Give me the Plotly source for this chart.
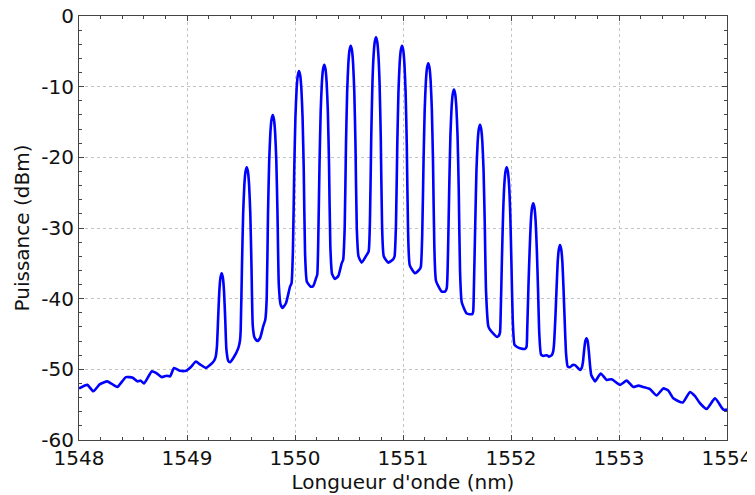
import plotly.graph_objects as go

# Spectrum trace (wavelength in nm, power in dBm)
wavelength_nm = [
    1548.000, 1548.077, 1548.132, 1548.194, 1548.262, 1548.318, 1548.355, 1548.435,
    1548.497, 1548.540, 1548.571, 1548.602, 1548.673, 1548.713, 1548.766, 1548.812,
    1548.843, 1548.880, 1548.935, 1548.991, 1549.034, 1549.083, 1549.120, 1549.176,
    1549.213, 1549.250, 1549.266,
    # peak 1
    1549.277, 1549.288, 1549.299, 1549.310, 1549.321, 1549.332, 1549.343, 1549.354, 1549.365,
    1549.382, 1549.398, 1549.429, 1549.475, 1549.490,
    # peak 2
    1549.497, 1549.509, 1549.520, 1549.531, 1549.542, 1549.553, 1549.564, 1549.575, 1549.586, 1549.597, 1549.609,
    1549.625, 1549.651, 1549.676, 1549.706, 1549.725,
    # peak 3
    1549.738, 1549.750, 1549.761, 1549.772, 1549.783, 1549.794, 1549.805, 1549.816, 1549.827, 1549.838, 1549.850,
    1549.866, 1549.886, 1549.917, 1549.954, 1549.968,
    # peak 4
    1549.981, 1549.993, 1550.004, 1550.015, 1550.026, 1550.037, 1550.048, 1550.059, 1550.070, 1550.081, 1550.093,
    1550.110, 1550.145, 1550.169, 1550.195, 1550.206,
    # peak 5
    1550.215, 1550.227, 1550.238, 1550.249, 1550.260, 1550.271, 1550.282, 1550.293, 1550.304, 1550.315, 1550.327,
    1550.343, 1550.370, 1550.401, 1550.432, 1550.446,
    # peak 6
    1550.460, 1550.472, 1550.483, 1550.494, 1550.505, 1550.516, 1550.527, 1550.538, 1550.549, 1550.560, 1550.572,
    1550.588, 1550.618, 1550.664, 1550.682,
    # peak 7
    1550.694, 1550.706, 1550.717, 1550.728, 1550.739, 1550.750, 1550.761, 1550.772, 1550.783, 1550.794, 1550.806,
    1550.822, 1550.864, 1550.910, 1550.922,
    # peak 8
    1550.935, 1550.947, 1550.958, 1550.969, 1550.980, 1550.991, 1551.002, 1551.013, 1551.024, 1551.035, 1551.047,
    1551.063, 1551.111, 1551.151, 1551.165,
    # peak 9
    1551.178, 1551.190, 1551.201, 1551.212, 1551.223, 1551.234, 1551.245, 1551.256, 1551.267, 1551.278, 1551.290,
    1551.306, 1551.358, 1551.389, 1551.405,
    # peak 10
    1551.416, 1551.428, 1551.439, 1551.450, 1551.461, 1551.472, 1551.483, 1551.494, 1551.505, 1551.516, 1551.528,
    1551.544, 1551.590, 1551.642, 1551.650,
    # peak 11
    1551.657, 1551.669, 1551.680, 1551.691, 1551.702, 1551.713, 1551.724, 1551.735, 1551.746, 1551.757, 1551.769,
    1551.790, 1551.806, 1551.868, 1551.884, 1551.898,
    # peak 12
    1551.904, 1551.916, 1551.927, 1551.938, 1551.949, 1551.960, 1551.971, 1551.982, 1551.993, 1552.004, 1552.016,
    1552.032, 1552.053, 1552.083, 1552.130, 1552.144,
    # peak 13
    1552.150, 1552.162, 1552.173, 1552.184, 1552.195, 1552.206, 1552.217, 1552.228, 1552.239, 1552.250, 1552.262,
    1552.278, 1552.299, 1552.331, 1552.352, 1552.377, 1552.390,
    # peak 14
    1552.398, 1552.410, 1552.421, 1552.432, 1552.443, 1552.454, 1552.465, 1552.476, 1552.487, 1552.498, 1552.510,
    1552.525, 1552.545, 1552.570, 1552.593, 1552.639,
    # peak 15
    1552.655, 1552.666, 1552.677, 1552.688, 1552.699, 1552.710, 1552.721, 1552.732, 1552.743,
    1552.760, 1552.778, 1552.831, 1552.886, 1552.932, 1553.009, 1553.071, 1553.132, 1553.179,
    1553.225, 1553.287, 1553.349, 1553.410, 1553.456, 1553.503, 1553.590, 1553.657, 1553.704,
    1553.750, 1553.812, 1553.889, 1553.966, 1554.000,
]

power_dbm = [
    -52.7, -52.2, -53.1, -52.1, -51.7, -52.2, -52.5, -51.1,
    -51.2, -51.7, -51.6, -52.0, -50.3, -50.5, -51.1, -50.9,
    -51.0, -49.8, -50.2, -50.2, -49.7, -48.9, -49.3, -49.8,
    -49.4, -48.8, -48.2,
    -46.8, -42.9, -39.0, -37.0, -36.4, -37.0, -39.0, -42.9, -47.2,
    -48.8, -49.0, -48.4, -47.0, -46.0,
    -44.5, -35.4, -27.9, -23.9, -22.0, -21.4, -22.0, -23.9, -27.9, -35.4, -43.8,
    -45.5, -46.0, -45.6, -43.9, -43.0,
    -40.0, -28.0, -20.5, -16.5, -14.6, -14.0, -14.6, -16.5, -20.5, -28.0, -38.0,
    -40.8, -41.3, -40.6, -38.3, -37.8,
    -33.0, -21.8, -14.3, -10.3, -8.4, -7.8, -8.4, -10.3, -14.3, -21.8, -33.5,
    -37.6, -38.3, -38.2, -37.1, -36.6,
    -32.0, -20.9, -13.4, -9.4, -7.5, -6.9, -7.5, -9.4, -13.4, -20.9, -32.5,
    -36.5, -37.2, -36.8, -35.0, -34.5,
    -30.0, -18.2, -10.7, -6.7, -4.8, -4.2, -4.8, -6.7, -10.7, -18.2, -30.0,
    -34.0, -34.9, -33.8, -33.3,
    -29.0, -17.0, -9.5, -5.5, -3.6, -3.0, -3.6, -5.5, -9.5, -17.0, -29.5,
    -34.0, -34.9, -34.4, -34.0,
    -29.5, -18.2, -10.7, -6.7, -4.8, -4.2, -4.8, -6.7, -10.7, -18.2, -30.5,
    -35.3, -36.4, -35.9, -35.5,
    -31.0, -20.7, -13.2, -9.2, -7.3, -6.7, -7.3, -9.2, -13.2, -20.7, -32.5,
    -37.5, -39.0, -39.0, -38.5,
    -34.0, -24.4, -16.9, -12.9, -11.0, -10.4, -11.0, -12.9, -16.9, -24.4, -36.0,
    -40.5, -42.1, -42.2, -41.8,
    -38.0, -29.4, -21.9, -17.9, -16.0, -15.4, -16.0, -17.9, -21.9, -29.4, -39.0,
    -43.9, -44.4, -45.4, -45.3, -44.8,
    -42.5, -34.4, -27.9, -23.9, -22.0, -21.4, -22.0, -23.9, -27.9, -35.0, -43.0,
    -46.5, -46.8, -47.0, -47.1, -46.8,
    -44.5, -38.0, -33.0, -29.0, -27.1, -26.5, -27.1, -29.0, -33.0, -38.5, -45.0,
    -47.9, -48.1, -48.0, -48.2, -48.0, -47.5,
    -46.5, -43.0, -38.9, -34.9, -33.0, -32.4, -33.0, -34.9, -38.9, -43.5, -47.8,
    -49.6, -49.7, -49.4, -49.4, -50.1,
    -49.8, -49.0, -47.3, -46.0, -45.6, -46.0, -47.5, -49.5, -50.8,
    -51.3, -51.7, -50.6, -51.5, -51.4, -52.2, -51.6, -52.5, -52.3,
    -52.5, -52.8, -53.7, -52.7, -53.0, -54.1, -54.7, -53.2, -53.8,
    -54.8, -55.6, -54.1, -55.7, -55.7,
]

x_ticks = [1548, 1549, 1550, 1551, 1552, 1553, 1554]
x_ticktext = ["1548", "1549", "1550", "1551", "1552", "1553", "1554"]
y_ticks = [-60, -50, -40, -30, -20, -10, 0]
y_ticktext = ["-60", "-50", "-40", "-30", "-20", "-10", "0"]

FONT = "DejaVu Sans"

fig = go.Figure()
fig.add_trace(go.Scatter(
    x=wavelength_nm, y=power_dbm, mode="lines",
    line=dict(color="#0000ff", width=2.6, shape="spline", smoothing=0.5),
    showlegend=False, hoverinfo="skip",
))

axis_common = dict(
    showline=True, linecolor="#444444", linewidth=1, mirror="allticks",
    ticks="inside", ticklen=5, tickcolor="#444444", tickwidth=1,
    showgrid=True, gridcolor="#c4c4c4", griddash="dot", gridwidth=1,
    zeroline=False, automargin=False, ticklabeloverflow="allow",
    tickfont=dict(family=FONT, size=20, color="#111111"),
)

fig.update_xaxes(
    range=[1548, 1554], tickvals=x_ticks, ticktext=x_ticktext,
    title=dict(text="Longueur d'onde (nm)", font=dict(family=FONT, size=20, color="#111111"), standoff=2),
    minor=dict(dtick=0.2, ticks="inside", ticklen=3, tickcolor="#444444", showgrid=False),
    **axis_common,
)
fig.update_yaxes(
    range=[-60, 0], tickvals=y_ticks, ticktext=y_ticktext,
    title=dict(text="Puissance (dBm)", font=dict(family=FONT, size=20, color="#111111"), standoff=6),
    minor=dict(dtick=2, ticks="inside", ticklen=3, tickcolor="#444444", showgrid=False),
    **axis_common,
)

# the page body adds an 8 px offset, so margins are shifted to keep the plot box in place
fig.update_layout(
    width=755, height=495,
    margin=dict(l=71, r=36, t=8, b=63),
    paper_bgcolor="white", plot_bgcolor="white",
    font=dict(family=FONT, size=20, color="#111111"),
)

fig.write_html("out.html")
